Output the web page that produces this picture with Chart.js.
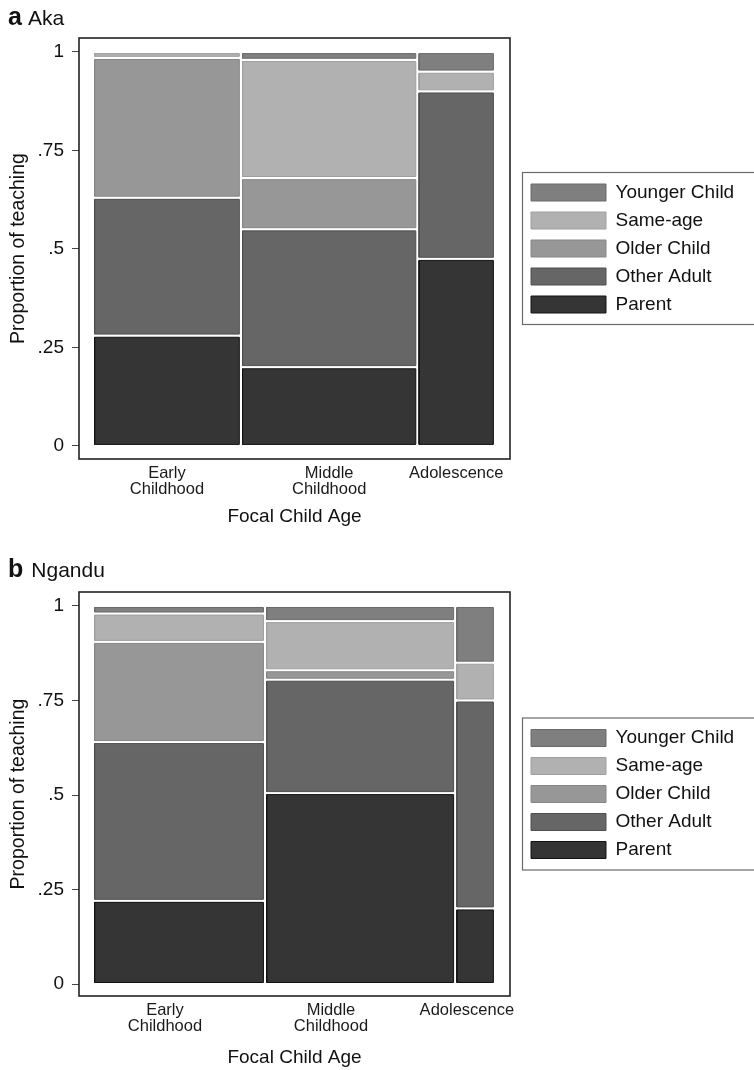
<!DOCTYPE html>
<html>
<head>
<meta charset="utf-8">
<script src="https://cdn.jsdelivr.net/npm/chart.js@4.4.1/dist/chart.umd.min.js"></script>
<style>
  html, body { margin: 0; padding: 0; background: #fff; width: 754px; height: 1070px; overflow: hidden;
    font-family: "Liberation Sans", Arial, sans-serif; color: #111; }
  .panel { position: absolute; left: 0; width: 754px; }
  .panel canvas { position: absolute; left: 0; top: 0; }
  .tag { position: absolute; left: 8px; font-size: 21px; line-height: 24px; white-space: nowrap; z-index: 2; }
  .tag b { font-size: 25px; margin-right: 6px; }
</style>
</head>
<body>
<div class="panel" style="top:0;height:528px">
  <div class="tag" style="top:4px"><b>a</b>Aka</div>
  <canvas id="chartAka" width="754" height="528"></canvas>
</div>
<div class="panel" style="top:528px;height:542px">
  <div class="tag" style="top:28px"><b style="margin-right:8px">b</b>Ngandu</div>
  <canvas id="chartNgandu" width="754" height="542"></canvas>
</div>
<script>
// Categories and tick labels
const AGE_GROUPS = [["Early", "Childhood"], ["Middle", "Childhood"], "Adolescence"];
const ROLES = ["Parent", "Other Adult", "Older Child", "Same-age", "Younger Child"];
const Y_TICKS = [0, 0.25, 0.5, 0.75, 1];
const Y_TICK_LABELS = ["0", ".25", ".5", ".75", "1"];

// Aka: share of all teaching in each age group (bar widths) and role proportions within each group
const AKA_AGE_SHARE = [0.368, 0.439, 0.193];
const AKA_PARENT = [0.28, 0.20, 0.475];
const AKA_OTHER_ADULT = [0.35, 0.35, 0.425];
const AKA_OLDER_CHILD = [0.355, 0.13, 0];
const AKA_SAME_AGE = [0.015, 0.30, 0.05];
const AKA_YOUNGER_CHILD = [0, 0.02, 0.05];

// Ngandu
const NGANDU_AGE_SHARE = [0.428, 0.473, 0.099];
const NGANDU_PARENT = [0.22, 0.505, 0.20];
const NGANDU_OTHER_ADULT = [0.42, 0.30, 0.55];
const NGANDU_OLDER_CHILD = [0.265, 0.025, 0];
const NGANDU_SAME_AGE = [0.075, 0.13, 0.10];
const NGANDU_YOUNGER_CHILD = [0.02, 0.04, 0.15];

// Where the age-group names sit on the Ngandu axis
const NGANDU_LABEL_AT = [0.179, 0.592, 0.930];

// Styling
const ROLE_FILL = ["#353535", "#666666", "#979797", "#b1b1b1", "#7f7f7f"];
const ROLE_EDGE = ["#121212", "#4f4f4f", "#868686", "#9f9f9f", "#6b6b6b"];
const TILE_GAP = 0.004;   // half of the white gutter between tiles, in axis units
const FONT = "'Liberation Sans', Arial, sans-serif";

const sum = a => a.reduce((s, v) => s + v, 0);

// Closed rectangle outlines (one per age group) for a single role, separated by gaps
function tilePoints(shares, series, role) {
  const pts = [];
  shares.forEach((w, g) => {
    const v = series[role][g];
    if (!v) return;
    const x0 = sum(shares.slice(0, g)) + TILE_GAP;
    const x1 = x0 - TILE_GAP + w - TILE_GAP;
    let below = 0;
    for (let r = 0; r < role; r++) below += series[r][g];
    const y0 = below + TILE_GAP;
    const y1 = below + v - TILE_GAP;
    pts.push({x: x0, y: y0}, {x: x1, y: y0}, {x: x1, y: y1}, {x: x0, y: y1}, {x: x0, y: y0});
    pts.push({x: null, y: null});
  });
  return pts;
}

// Frame around the plot region and a box around the legend
const framePlugin = {
  id: 'frames',
  beforeLayout(chart, args, opts) {
    const legend = chart.legend;
    if (legend && !legend._fixedWidth) {
      const fit = legend.fit.bind(legend);
      legend.fit = function () { fit(); this.width = opts.legendWidth; };
      legend._fixedWidth = true;
    }
  },
  afterLayout(chart, args, opts) {
    chart.legend.left += opts.legendShift;
    chart.legend.right += opts.legendShift;
  },
  afterDraw(chart) {
    const c = chart.ctx, a = chart.chartArea;
    c.save();
    c.strokeStyle = '#222';
    c.lineWidth = 1.6;
    c.strokeRect(a.left, a.top, a.right - a.left, a.bottom - a.top);
    const boxes = chart.legend.legendHitBoxes;
    if (boxes && boxes.length) {
      const last = boxes[boxes.length - 1];
      const top = boxes[0].top - 11;
      const bottom = last.top + last.height + 10;
      c.strokeStyle = '#6a6a6a';
      c.lineWidth = 1.2;
      c.strokeRect(chart.legend.left + 0.5, top + 0.5, chart.width, bottom - top);
    }
    c.restore();
  }
};

function drawPanel(canvasId, shares, series, labelAt, yMin, yMax, padTop, padBottom, xAxisHeight) {
  const anchors = labelAt || shares.map((w, i) => sum(shares.slice(0, i)) + w / 2);
  const datasets = series.map((vals, r) => ({
    label: ROLES[r],
    data: tilePoints(shares, series, r),
    backgroundColor: ROLE_FILL[r],
    borderColor: ROLE_EDGE[r],
    borderWidth: 1,
    fill: 'shape',
    pointRadius: 0,
    tension: 0,
    spanGaps: false
  }));

  new Chart(document.getElementById(canvasId), {
    type: 'line',
    data: {datasets},
    plugins: [framePlugin],
    options: {
      responsive: false,
      animation: false,
      devicePixelRatio: 1,
      events: [],
      layout: {padding: {top: padTop, bottom: padBottom, left: 0, right: 0}},
      scales: {
        x: {
          type: 'linear',
          min: -0.0348,
          max: 1.0373,
          afterFit: s => { s.height = xAxisHeight; },
          afterBuildTicks: s => { s.ticks = anchors.map(v => ({value: v})); },
          grid: {display: false},
          border: {display: false},
          ticks: {
            autoSkip: false,
            maxRotation: 0,
            padding: -2,
            color: '#1a1a1a',
            font: {family: FONT, size: 16.5, lineHeight: 0.97},
            callback: (v, i) => AGE_GROUPS[i]
          },
          title: {
            display: true,
            text: 'Focal Child Age',
            color: '#111',
            padding: 0,
            font: {family: FONT, size: 19}
          }
        },
        y: {
          type: 'linear',
          min: yMin,
          max: yMax,
          afterFit: s => { s.width = 79; },
          afterBuildTicks: s => { s.ticks = Y_TICKS.map(v => ({value: v})); },
          grid: {display: true, drawOnChartArea: false, drawTicks: true, tickLength: 7, color: '#444', lineWidth: 1},
          border: {display: false},
          ticks: {
            padding: 8,
            color: '#111',
            font: {family: FONT, size: 19},
            callback: (v, i) => Y_TICK_LABELS[i]
          },
          title: {
            display: true,
            text: 'Proportion of teaching',
            color: '#111',
            padding: {top: 7, bottom: 0},
            font: {family: FONT, size: 19.5}
          }
        }
      },
      plugins: {
        frames: {legendWidth: 244, legendShift: 12},
        tooltip: {enabled: false},
        legend: {
          position: 'right',
          fullSize: false,
          reverse: true,
          labels: {
            boxWidth: 75,
            boxHeight: 17,
            padding: 9,
            color: '#111',
            font: {family: FONT, size: 19}
          }
        }
      }
    }
  });
}

drawPanel('chartAka', AKA_AGE_SHARE,
  [AKA_PARENT, AKA_OTHER_ADULT, AKA_OLDER_CHILD, AKA_SAME_AGE, AKA_YOUNGER_CHILD],
  null, -0.033, 1.0355, 38, 0, 69);

drawPanel('chartNgandu', NGANDU_AGE_SHARE,
  [NGANDU_PARENT, NGANDU_OTHER_ADULT, NGANDU_OLDER_CHILD, NGANDU_SAME_AGE, NGANDU_YOUNGER_CHILD],
  NGANDU_LABEL_AT, -0.0317, 1.037, 64, 1, 73);
</script>
</body>
</html>
